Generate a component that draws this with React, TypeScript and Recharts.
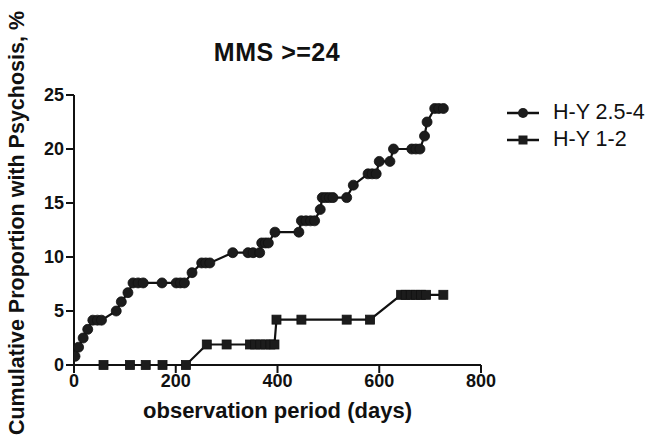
import React from 'react';
import { LineChart, Line, XAxis, YAxis, Label } from 'recharts';

// H-Y 2.5-4 (circles)
const hyHighDays = [
  2, 9, 18, 27, 37, 46, 54, 83, 93, 106, 116, 126, 136, 173, 201, 209, 217, 232, 251, 259, 267, 312,
  342, 352, 365, 369, 376, 382, 395, 442, 447, 456, 465, 473, 484, 488, 495, 502, 509, 536, 549, 578,
  586, 594, 600, 621, 628, 664, 672, 680, 689, 694, 709, 717, 726,
];
const hyHighValues = [
  0.8, 1.65, 2.5, 3.3, 4.15, 4.15, 4.15, 5.0, 5.85, 6.7, 7.6, 7.6, 7.6, 7.6, 7.6, 7.6, 7.6, 8.55, 9.45,
  9.45, 9.45, 10.4, 10.4, 10.4, 10.4, 11.3, 11.3, 11.3, 12.3, 12.3, 13.35, 13.35, 13.35, 13.35, 14.4,
  15.5, 15.5, 15.5, 15.5, 15.5, 16.65, 17.7, 17.7, 17.7, 18.85, 18.85, 20.0, 20.0, 20.0, 20.0, 21.2,
  22.5, 23.75, 23.75, 23.75,
];

// H-Y 1-2 (squares)
const hyLowDays = [
  58, 110, 141, 174, 220, 261, 300, 346, 356, 366, 376, 386, 394, 398, 447, 536, 582, 643, 652, 662,
  672, 682, 692, 726,
];
const hyLowValues = [
  0, 0, 0, 0, 0, 1.9, 1.9, 1.9, 1.9, 1.9, 1.9, 1.9, 1.9, 4.2, 4.2, 4.2, 4.2, 6.5, 6.5, 6.5, 6.5, 6.5,
  6.5, 6.5,
];

const xTicks = [0, 200, 400, 600, 800];
const yTicks = [0, 5, 10, 15, 20, 25];

const highData = hyHighDays.map((day, i) => ({ day, value: hyHighValues[i] }));
const lowData = hyLowDays.map((day, i) => ({ day, value: hyLowValues[i] }));

const FONT = '"Liberation Sans", Arial, Helvetica, sans-serif';
const INK = '#111';

const SquareDot = (props: any) => {
  const { cx, cy, index } = props;
  if (cx == null || cy == null) return null;
  return <rect key={`sq-${index}`} x={cx - 4.5} y={cy - 4.5} width={9} height={9} fill="#1c1c1c" stroke={INK} strokeWidth={0.8} />;
};

const LegendIcon = ({ shape }: { shape: 'circle' | 'square' }) => (
  <svg width={32} height={12} style={{ display: 'block' }}>
    <line x1={0} y1={6} x2={32} y2={6} stroke={INK} strokeWidth={2.5} />
    {shape === 'circle' ? (
      <circle cx={16} cy={6} r={5} fill="#1c1c1c" />
    ) : (
      <rect x={11.5} y={1.5} width={9} height={9} fill="#1c1c1c" />
    )}
  </svg>
);

export default function App() {
  return (
    <div style={{ position: 'absolute', left: 0, top: 0, width: 651, height: 443, background: '#fff', fontFamily: FONT }}>
      <div
        style={{
          position: 'absolute',
          left: 277,
          top: 38,
          transform: 'translateX(-50%)',
          fontSize: 25,
          fontWeight: 700,
          color: INK,
          whiteSpace: 'nowrap',
          letterSpacing: 0.5,
        }}
      >
        MMS &gt;=24
      </div>
      <div
        style={{
          position: 'absolute',
          left: 17,
          top: 223,
          transform: 'translate(-50%, -50%) rotate(-90deg)',
          fontSize: 21.5,
          fontWeight: 700,
          color: INK,
          whiteSpace: 'nowrap',
        }}
      >
        Cumulative Proportion with Psychosis, %
      </div>
      <div style={{ position: 'absolute', left: 507, top: 99, color: INK, fontSize: 21.5 }}>
        <div style={{ display: 'flex', alignItems: 'center', height: 27 }}>
          <LegendIcon shape="circle" />
          <span style={{ marginLeft: 14 }}>H-Y 2.5-4</span>
        </div>
        <div style={{ display: 'flex', alignItems: 'center', height: 27 }}>
          <LegendIcon shape="square" />
          <span style={{ marginLeft: 14 }}>H-Y 1-2</span>
        </div>
      </div>
      <LineChart width={651} height={443} margin={{ top: 95, right: 170, bottom: 48, left: 34 }}>
        <XAxis
          type="number"
          dataKey="day"
          domain={[0, 800]}
          ticks={xTicks}
          allowDataOverflow
          height={30}
          axisLine={{ stroke: INK, strokeWidth: 2 }}
          tickLine={{ stroke: INK, strokeWidth: 2 }}
          tickSize={8}
          tickMargin={1}
          tick={{ fontSize: 18, fontWeight: 700, fill: INK, fontFamily: FONT }}
        >
          <Label
            value="observation period (days)"
            position="bottom"
            offset={7}
            style={{ fontSize: 22, fontWeight: 700, fill: INK, fontFamily: FONT }}
          />
        </XAxis>
        <YAxis
          type="number"
          dataKey="value"
          domain={[0, 25]}
          ticks={yTicks}
          width={40}
          axisLine={{ stroke: INK, strokeWidth: 2 }}
          tickLine={{ stroke: INK, strokeWidth: 2 }}
          tickSize={8}
          tickMargin={2}
          tick={{ fontSize: 18, fontWeight: 700, fill: INK, fontFamily: FONT }}
        />
        <Line
          data={lowData}
          dataKey="value"
          name="H-Y 1-2"
          type="linear"
          stroke={INK}
          strokeWidth={2.2}
          dot={SquareDot}
          activeDot={false}
          isAnimationActive={false}
        />
        <Line
          data={highData}
          dataKey="value"
          name="H-Y 2.5-4"
          type="linear"
          stroke={INK}
          strokeWidth={2.2}
          dot={{ r: 5, fill: '#1c1c1c', stroke: INK, strokeWidth: 0.8 }}
          activeDot={false}
          isAnimationActive={false}
        />
      </LineChart>
    </div>
  );
}
